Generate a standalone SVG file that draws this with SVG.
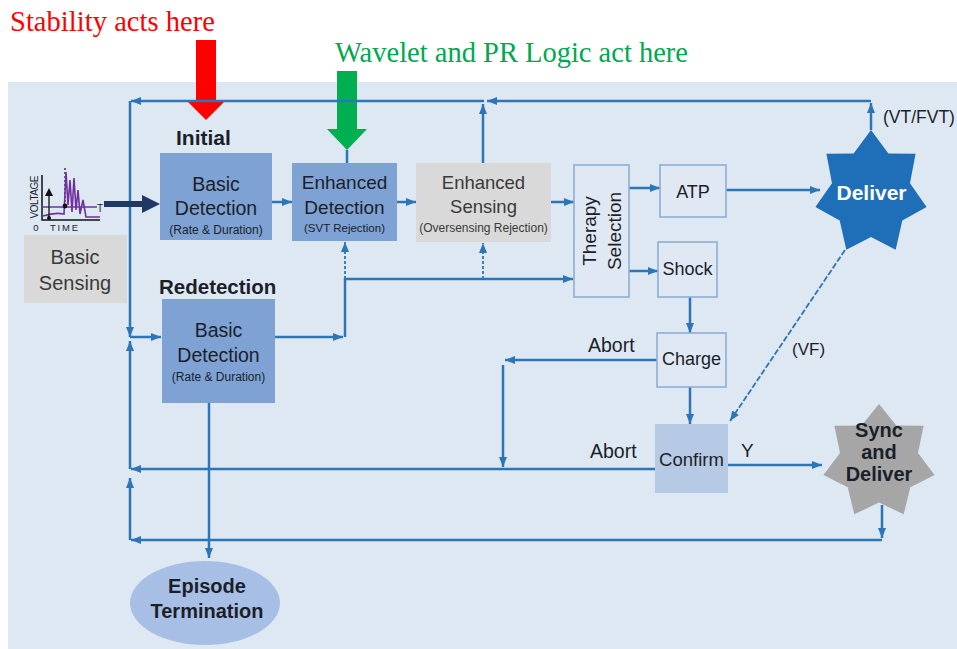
<svg xmlns="http://www.w3.org/2000/svg" width="957" height="649" viewBox="0 0 957 649">
  <defs>
    <style>
      .t { font-family: "Liberation Sans", Arial, sans-serif; fill: #1b1f2a; }
      .g { fill: #3a3a3a; }
      .b { font-weight: bold; }
      .m { text-anchor: middle; }
      .note { font-family: "Liberation Serif", "Times New Roman", serif; font-size: 28.5px; }
      .c { fill: none; stroke: #2e75b6; stroke-width: 2.5; }
      .d { stroke-dasharray: 3 2; stroke-width: 1.8; }
      .dd { stroke-dasharray: 6 2; stroke-width: 1.8; }
      .blue { fill: #7ea2d4; }
      .outl { fill: #dfe8f3; stroke: #8cadd6; stroke-width: 1.6; }
    </style>
    <marker id="ah" markerUnits="userSpaceOnUse" markerWidth="10" markerHeight="8" refX="10" refY="4" orient="auto">
      <path d="M0,0 L10,4 L0,8 z" fill="#2e75b6" stroke="none"/>
    </marker>
  </defs>

  <!-- page and panel -->
  <rect x="0" y="0" width="957" height="649" fill="#ffffff"/>
  <rect x="8" y="82" width="949" height="567" fill="#dee8f3"/>

  <!-- annotations above the panel -->
  <g id="stability-note">
    <text class="note" x="10" y="31" fill="#ff0000" textLength="205">Stability acts here</text>
    <polygon points="196,40 216,40 216,100 226,100 206,120 186,100 196,100" fill="#ff0000"/>
  </g>
  <g id="wavelet-note">
    <text class="note" x="335" y="62" fill="#00a850" textLength="353">Wavelet and PR Logic act here</text>
    <polygon points="337,71 357,71 357,129 367,129 347,150 327,129 337,129" fill="#00b050"/>
  </g>

  <!-- connectors -->
  <g id="connectors">
    <path class="c" d="M347,150 V163"/>
    <path class="c" d="M272,202 H292" marker-end="url(#ah)"/>
    <path class="c" d="M397,202 H416" marker-end="url(#ah)"/>
    <path class="c" d="M551,202 H574" marker-end="url(#ah)"/>
    <path class="c" d="M629,188 H660" marker-end="url(#ah)"/>
    <path class="c" d="M629,271 H658" marker-end="url(#ah)"/>
    <path class="c" d="M726,190 H820" marker-end="url(#ah)"/>
    <path class="c" d="M690,297 V333" marker-end="url(#ah)"/>
    <path class="c" d="M690,387 V424" marker-end="url(#ah)"/>
    <!-- return path along the top -->
    <path class="c" d="M871,130 V103" marker-end="url(#ah)"/>
    <path class="c" d="M871,101 H487" marker-end="url(#ah)"/>
    <path class="c" d="M484,101 H131" marker-end="url(#ah)"/>
    <path class="c" d="M483,163 V104" marker-end="url(#ah)"/>
    <!-- left bus -->
    <path class="c" d="M130,101 V337" marker-end="url(#ah)"/>
    <path class="c" d="M130,540 V478" marker-end="url(#ah)"/>
    <path class="c" d="M130,469 V341" marker-end="url(#ah)"/>
    <path class="c" d="M130,337 H161" marker-end="url(#ah)"/>
    <!-- redetection output -->
    <path class="c" d="M275,337 H343" marker-end="url(#ah)"/>
    <path class="c" d="M345,337 V279 H573" marker-end="url(#ah)"/>
    <path class="c d" d="M345,279 V242" marker-end="url(#ah)"/>
    <path class="c d" d="M483,279 V243" marker-end="url(#ah)"/>
    <path class="c" d="M209,403 V558" marker-end="url(#ah)"/>
    <!-- aborts -->
    <path class="c" d="M657,360 H505" marker-end="url(#ah)"/>
    <path class="c" d="M503,365 V467" marker-end="url(#ah)"/>
    <path class="c" d="M655,469 H131" marker-end="url(#ah)"/>
    <!-- confirm / sync -->
    <path class="c" d="M728,465 H822" marker-end="url(#ah)"/>
    <path class="c" d="M882,505 V538" marker-end="url(#ah)"/>
    <path class="c" d="M882,540 H131" marker-end="url(#ah)"/>
    <path class="c dd" d="M845,250 L730,421" marker-end="url(#ah)"/>
    <!-- sensing input -->
    <path d="M104,204 H144" stroke="#1f3864" stroke-width="6" fill="none"/>
    <polygon points="142,195 160,204 142,213" fill="#1f3864"/>
    <!-- connector labels -->
    <text class="t" x="883" y="123" font-size="17.5">(VT/FVT)</text>
    <text class="t" x="792" y="355" font-size="17">(VF)</text>
    <text class="t" x="588" y="352" font-size="19.5">Abort</text>
    <text class="t" x="590" y="458" font-size="19.5">Abort</text>
    <text class="t" x="741" y="457" font-size="19">Y</text>
  </g>

  <!-- nodes -->
  <g id="basic-sensing">
    <g id="signal-icon">
      <text class="t" transform="translate(37.5,197) rotate(-90)" font-size="10" text-anchor="middle" textLength="43">VOLTAGE</text>
      <text class="t" x="36" y="231" font-size="9.5" text-anchor="middle">0</text>
      <text class="t" x="50" y="231" font-size="9.5" textLength="28">TIME</text>
      <text class="t" x="97" y="212" font-size="10">T</text>
      <path d="M42,175 V220 H100" fill="none" stroke="#111" stroke-width="1.5"/>
      <path d="M65,168 V204" fill="none" stroke="#111" stroke-width="1.2" stroke-dasharray="2 2"/>
      <path d="M43,216 Q55,212 64,214 L66,172 L68,205 L70,180 L72,212 L74,178 L76,210 L78,190 L80,214 L83,200 L86,217 L100,217" fill="none" stroke="#7030a0" stroke-width="1.6"/>
      <path d="M42,207 H97" fill="none" stroke="#7030a0" stroke-width="1.6"/>
      <path d="M49,217 V194" fill="none" stroke="#111" stroke-width="1.3"/>
      <polygon points="45,196 49,188 53,196" fill="#111"/>
      <circle cx="65" cy="206" r="2.4" fill="#111"/>
      <circle cx="49" cy="218" r="2" fill="#111"/>
    </g>
    <rect x="24" y="235" width="103" height="68" fill="#d9d9d9"/>
    <text class="t g m" x="75" y="264" font-size="20">Basic</text>
    <text class="t g m" x="75" y="290" font-size="20">Sensing</text>
  </g>

  <g id="initial-detection">
    <text class="t b" x="176" y="145" font-size="21">Initial</text>
    <rect class="blue" x="160" y="153" width="112" height="87"/>
    <text class="t m" x="216" y="191" font-size="19.5">Basic</text>
    <text class="t m" x="216" y="215" font-size="19.5">Detection</text>
    <text class="t m" x="216" y="234" font-size="12">(Rate &amp; Duration)</text>
  </g>

  <g id="enhanced-detection">
    <rect class="blue" x="292" y="163" width="105" height="78"/>
    <text class="t m" x="344.5" y="189" font-size="19">Enhanced</text>
    <text class="t m" x="344.5" y="214" font-size="19">Detection</text>
    <text class="t m" x="344.5" y="232" font-size="11.5">(SVT Rejection)</text>
  </g>

  <g id="enhanced-sensing">
    <rect x="416" y="163" width="135" height="79" fill="#d9d9d9"/>
    <text class="t g m" x="483.5" y="189" font-size="18.5">Enhanced</text>
    <text class="t g m" x="483.5" y="213" font-size="18.5">Sensing</text>
    <text class="t g m" x="483.5" y="232" font-size="12">(Oversensing Rejection)</text>
  </g>

  <g id="therapy-selection">
    <rect class="outl" x="574" y="165" width="55" height="132"/>
    <text class="t m" transform="translate(596,231) rotate(-90)" font-size="19">Therapy</text>
    <text class="t m" transform="translate(621,231) rotate(-90)" font-size="19">Selection</text>
  </g>

  <g id="atp">
    <rect class="outl" x="660" y="165" width="66" height="52"/>
    <text class="t m" x="693" y="198" font-size="18">ATP</text>
  </g>

  <g id="shock">
    <rect class="outl" x="658" y="242" width="59" height="55"/>
    <text class="t m" x="687.5" y="275" font-size="18">Shock</text>
  </g>

  <g id="charge">
    <rect class="outl" x="657" y="333" width="69" height="54"/>
    <text class="t m" x="691.5" y="365" font-size="18">Charge</text>
  </g>

  <g id="confirm">
    <rect x="655" y="424" width="73" height="69" fill="#b7cae5"/>
    <text class="t m" x="691.5" y="466" font-size="18.5">Confirm</text>
  </g>

  <g id="redetection">
    <text class="t b" x="159" y="294" font-size="20.5">Redetection</text>
    <rect class="blue" x="162" y="299" width="113" height="104"/>
    <text class="t m" x="218.5" y="337" font-size="19.5">Basic</text>
    <text class="t m" x="218.5" y="362" font-size="19.5">Detection</text>
    <text class="t m" x="218.5" y="381" font-size="12">(Rate &amp; Duration)</text>
  </g>

  <g id="episode-termination">
    <ellipse cx="205" cy="603" rx="75" ry="42" fill="#a8bfe5"/>
    <text class="t b m" x="207" y="593" font-size="20">Episode</text>
    <text class="t b m" x="207" y="618" font-size="20">Termination</text>
  </g>

  <g id="deliver">
    <polygon fill="#1f6fb8" points="871,130 888.4,153.4 915.6,153.7 910,183.2 926.6,207 902.3,220.4 895.7,249.8 871,237 846.3,249.8 839.7,220.4 815.4,207 832,183.2 826.4,153.7 853.6,153.4"/>
    <text class="b m" x="871.5" y="200" font-size="21" font-family="Liberation Sans, Arial, sans-serif" fill="#ffffff">Deliver</text>
  </g>

  <g id="sync-and-deliver">
    <polygon fill="#a6a6a6" points="879,404 896.4,425.4 923.6,425.8 918,453 934.6,474.9 910.3,487.3 903.7,514.3 879,502.6 854.3,514.3 847.7,487.3 823.4,474.9 840,453 834.4,425.8 861.6,425.4"/>
    <text class="t b m" x="879" y="437" font-size="20">Sync</text>
    <text class="t b m" x="879" y="459" font-size="20">and</text>
    <text class="t b m" x="879" y="481" font-size="20">Deliver</text>
  </g>
</svg>
